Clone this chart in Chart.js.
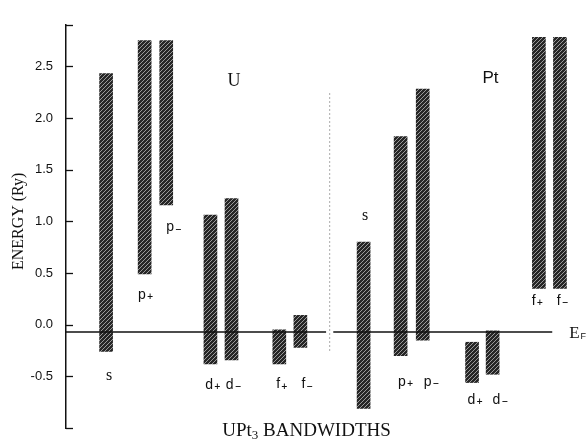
<!DOCTYPE html>
<html>
<head>
<meta charset="utf-8">
<script src="https://cdn.jsdelivr.net/npm/chart.js@4.4.1/dist/chart.umd.min.js"></script>
<style>
  html, body { margin: 0; padding: 0; background: #fff; overflow: hidden; }
  canvas { display: block; }
</style>
</head>
<body>
<canvas id="bandChart" width="587" height="440"></canvas>
<script>
// band edges in Ry
const bandLetters = ["s", "p", "p", "d", "d", "f", "f"];
const bandSigns = ["", "+", "\u2212", "+", "\u2212", "+", "\u2212"];
const uBandLow = [-0.26, 0.49, 1.16, -0.38, -0.34, -0.38, -0.22];
const uBandHigh = [2.43, 2.75, 2.75, 1.06, 1.22, -0.05, 0.09];
const ptBandLow = [-0.81, -0.30, -0.15, -0.56, -0.48, 0.35, 0.35];
const ptBandHigh = [0.80, 1.82, 2.28, -0.17, -0.06, 2.78, 2.78];
const fermiLevel = -0.07;
const yTicks = [-0.5, 0.0, 0.5, 1.0, 1.5, 2.0, 2.5];

// horizontal slots of the bands on a 0..100 axis
const uSlots = [7.8, 15.3, 19.5, 28.1, 32.2, 41.5, 45.6];
const ptSlots = [57.9, 65.1, 69.4, 79.0, 83.0, 92.0, 96.1];

// where the band labels sit (axis units)
const uLabelSpots = [[7.8, -0.49], [14.0, 0.285], [19.5, 0.94], [27.1, -0.585], [31.1, -0.585], [40.9, -0.58], [45.8, -0.58]];
const ptLabelSpots = [[57.6, 1.05], [64.6, -0.555], [69.6, -0.555], [78.1, -0.73], [83.0, -0.73], [90.6, 0.225], [95.5, 0.225]];

function hatch() {
  const c = document.createElement("canvas");
  c.width = 4;
  c.height = 4;
  const g = c.getContext("2d");
  g.fillStyle = "#262626";
  g.fillRect(0, 0, 4, 4);
  g.strokeStyle = "#9a9a9a";
  g.lineWidth = 1;
  [[-1, 1, 1, -1], [0, 4, 4, 0], [3, 5, 5, 3]].forEach(([a, b, c2, d]) => {
    g.beginPath();
    g.moveTo(a, b);
    g.lineTo(c2, d);
    g.stroke();
  });
  return g.createPattern(c, "repeat");
}

const pattern = hatch();

function bandPoints(slots, low, high) {
  return slots.map((x, i) => ({ x: x, y: [low[i], high[i]] }));
}

function drawLabel(ctx, text, sub, px, py, font, subFont, subDy) {
  ctx.font = font;
  ctx.textAlign = "left";
  ctx.textBaseline = "middle";
  ctx.fillText(text, px, py);
  if (sub) {
    const w = ctx.measureText(text).width;
    ctx.font = subFont;
    ctx.fillText(sub, px + w + 1, py + subDy);
  }
}

const annotations = {
  id: "annotations",
  afterDraw(chart) {
    const { ctx, chartArea } = chart;
    const x = chart.scales.x;
    const y = chart.scales.y;
    ctx.save();
    ctx.fillStyle = "#111";
    ctx.strokeStyle = "#111";

    // inward tick stubs on the energy axis
    ctx.lineWidth = 1.3;
    [y.min, ...yTicks, y.max].forEach(v => {
      const py = Math.round(y.getPixelForValue(v)) + 0.5;
      ctx.beginPath();
      ctx.moveTo(chartArea.left, py);
      ctx.lineTo(chartArea.left + 7, py);
      ctx.stroke();
    });

    const sans = "14px 'Liberation Sans', sans-serif";
    const small = "bold 8px 'DejaVu Sans', sans-serif";
    const putBand = (spots) => {
      spots.forEach(([vx, vy], i) => {
        const f = bandLetters[i] === "s" ? "16px 'Liberation Serif', serif" : sans;
        drawLabel(ctx, bandLetters[i], bandSigns[i], x.getPixelForValue(vx), y.getPixelForValue(vy), f, small, 2);
      });
    };
    putBand(uLabelSpots);
    putBand(ptLabelSpots);

    ctx.textAlign = "center";
    ctx.textBaseline = "middle";
    ctx.font = "18px 'Liberation Serif', serif";
    ctx.fillText("U", x.getPixelForValue(32.7), y.getPixelForValue(2.355));
    ctx.font = "17px 'Liberation Sans', sans-serif";
    ctx.fillText("Pt", x.getPixelForValue(82.6), y.getPixelForValue(2.38));

    drawLabel(ctx, "E", "F", x.getPixelForValue(97.9), y.getPixelForValue(fermiLevel - 0.02),
      "17px 'Liberation Serif', serif", "9px 'Liberation Sans', sans-serif", 3);

    // bottom caption
    const capY = y.getPixelForValue(-1.03);
    ctx.font = "19px 'Liberation Serif', serif";
    const w1 = ctx.measureText("UPt").width;
    const w3 = ctx.measureText(" BANDWIDTHS").width;
    ctx.font = "13px 'Liberation Serif', serif";
    const w2 = ctx.measureText("3").width;
    let cx = x.getPixelForValue(46.8) - (w1 + w2 + w3) / 2;
    ctx.textAlign = "left";
    ctx.font = "19px 'Liberation Serif', serif";
    ctx.fillText("UPt", cx, capY);
    ctx.font = "13px 'Liberation Serif', serif";
    ctx.fillText("3", cx + w1, capY + 4);
    ctx.font = "19px 'Liberation Serif', serif";
    ctx.fillText(" BANDWIDTHS", cx + w1 + w2, capY);

    // energy axis title
    ctx.translate(19, y.getPixelForValue(1.0));
    ctx.rotate(-Math.PI / 2);
    ctx.textAlign = "center";
    ctx.font = "16px 'Liberation Serif', serif";
    ctx.fillText("ENERGY (Ry)", 0, 0);
    ctx.restore();
  }
};

new Chart(document.getElementById("bandChart"), {
  type: "bar",
  data: {
    datasets: [
      {
        type: "line",
        label: "EF U",
        data: [{ x: 0, y: fermiLevel }, { x: 50.6, y: fermiLevel }],
        borderColor: "#111",
        borderWidth: 1.5,
        pointRadius: 0,
        order: 0
      },
      {
        type: "line",
        label: "EF Pt",
        data: [{ x: 52.0, y: fermiLevel }, { x: 94.6, y: fermiLevel }],
        borderColor: "#111",
        borderWidth: 1.5,
        pointRadius: 0,
        order: 0
      },
      {
        type: "line",
        label: "divider",
        data: [{ x: 51.3, y: -0.25 }, { x: 51.3, y: 2.26 }],
        borderColor: "#555",
        borderWidth: 1,
        borderDash: [1, 3],
        pointRadius: 0,
        order: 0
      },
      {
        label: "U",
        data: bandPoints(uSlots, uBandLow, uBandHigh),
        backgroundColor: pattern,
        barThickness: 13,
        grouped: false,
        order: 1
      },
      {
        label: "Pt",
        data: bandPoints(ptSlots, ptBandLow, ptBandHigh),
        backgroundColor: pattern,
        barThickness: 13,
        grouped: false,
        order: 1
      }
    ]
  },
  options: {
    responsive: false,
    animation: false,
    layout: {
      padding: { top: 25, bottom: 12, left: 0, right: 7 }
    },
    scales: {
      x: {
        type: "linear",
        min: 0,
        max: 100,
        offset: false,
        display: false
      },
      y: {
        min: -1.0,
        max: 2.9,
        afterBuildTicks: scale => { scale.ticks = yTicks.map(v => ({ value: v })); },
        afterFit: scale => { scale.width = 66; },
        grid: { display: true, drawOnChartArea: false, drawTicks: true, tickLength: 11, color: "rgba(0,0,0,0)" },
        border: { display: true, color: "#111", width: 1.5 },
        ticks: {
          padding: 2,
          color: "#111",
          font: { family: "'Liberation Sans', sans-serif", size: 13 },
          callback: value => value.toFixed(1)
        }
      }
    },
    plugins: {
      legend: { display: false },
      tooltip: { enabled: false },
      title: { display: false }
    }
  },
  plugins: [annotations]
});
</script>
</body>
</html>
